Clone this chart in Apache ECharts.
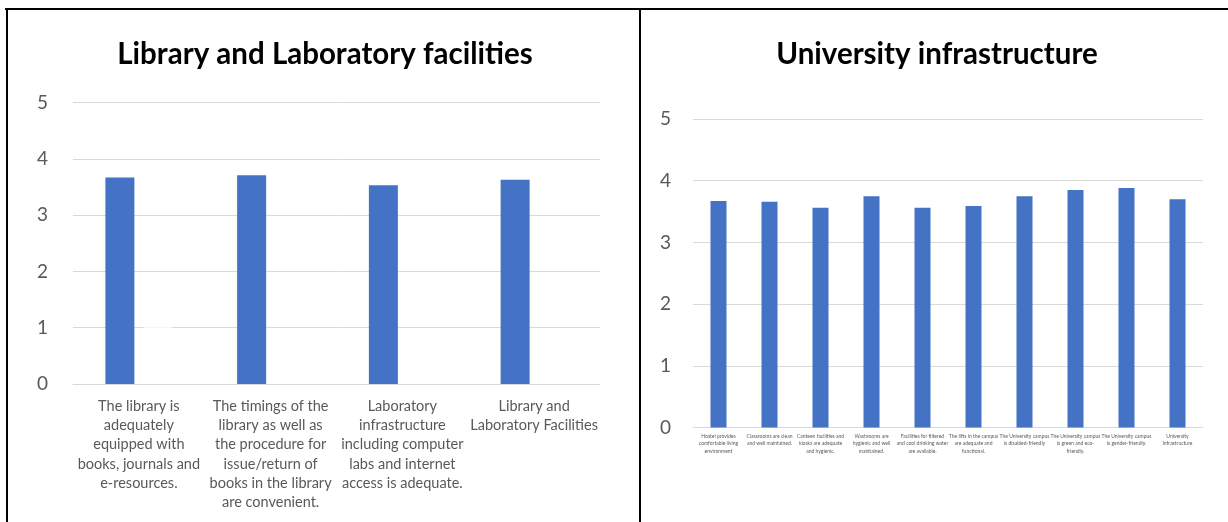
<!DOCTYPE html>
<html>
<head>
<meta charset="utf-8">
<script src="https://cdn.jsdelivr.net/npm/echarts@6/dist/echarts.min.js"></script>
<style>
html,body{margin:0;padding:0;background:#fff;}
#chart{width:1228px;height:522px;}
</style>
</head>
<body>
<div id="chart"></div>
<script>
// ---- Data ----
const libTitle = "Library and Laboratory facilities";
const libCategories = [
  "The library is\nadequately\nequipped with\nbooks, journals and\ne-resources.",
  "The timings of the\nlibrary as well as\nthe procedure for\nissue/return of\nbooks in the library\nare convenient.",
  "Laboratory\ninfrastructure\nincluding computer\nlabs and internet\naccess is adequate.",
  "Library and\nLaboratory Facilities"
];
const libValues = [3.67, 3.71, 3.53, 3.63];
const libSecondValues = [1.01, null, null, null];

const uniTitle = "University infrastructure";
const uniCategories = [
  "Hostel provides\ncomfortable living\nenvironment",
  "Classrooms are clean\nand well maintained.",
  "Canteen facilities and\nkiosks are adequate\nand hygienic.",
  "Washrooms are\nhygienic and well\nmaintained.",
  "Facilities for filtered\nand cool drinking water\nare available.",
  "The lifts in the campus\nare adequate and\nfunctional.",
  "The University campus\nis disabled-friendly",
  "The University campus\nis green and eco-\nfriendly.",
  "The University campus\nis gender-friendly.",
  "University\nInfrastructure"
];
const uniValues = [3.67, 3.66, 3.56, 3.75, 3.56, 3.59, 3.75, 3.85, 3.88, 3.70];

const yTicks = [0, 1, 2, 3, 4, 5];

// ---- Chart ----
const chart = echarts.init(document.getElementById('chart'), null, {renderer: 'canvas'});
const FONT = 'Lato, "Open Sans", sans-serif';
const grey = '#595959';
const gridCol = '#d9d9d9';
const blue = '#4472C4';

function yAxis(gridIndex, margin) {
  return {
    type: 'value', gridIndex: gridIndex,
    min: yTicks[0], max: yTicks[yTicks.length - 1], interval: 1,
    axisLine: {show: false}, axisTick: {show: false},
    axisLabel: {color: grey, fontSize: 19, fontFamily: FONT, margin: margin},
    splitLine: {lineStyle: {color: gridCol, width: 1}}
  };
}

chart.setOption({
  animation: false,
  backgroundColor: '#fff',
  title: [
    {text: libTitle, left: 320, top: 34, textAlign: 'center',
     textStyle: {fontFamily: FONT, fontWeight: 'bold', fontSize: 29.5, color: '#000'}},
    {text: uniTitle, left: 932, top: 34, textAlign: 'center',
     textStyle: {fontFamily: FONT, fontWeight: 'bold', fontSize: 29.5, color: '#000'}}
  ],
  grid: [
    {left: 73, right: 628, top: 102.5, bottom: 138},
    {left: 693, right: 25, top: 119, bottom: 94.5}
  ],
  xAxis: [
    {type: 'category', gridIndex: 0, data: libCategories,
     axisLine: {lineStyle: {color: gridCol, width: 1}}, axisTick: {show: false},
     axisLabel: {color: grey, fontSize: 14.5, lineHeight: 19.3, fontFamily: FONT, margin: 12.5, interval: 0}},
    {type: 'category', gridIndex: 1, data: uniCategories,
     axisLine: {lineStyle: {color: gridCol, width: 1}}, axisTick: {show: false},
     axisLabel: {color: grey, fontSize: 5, lineHeight: 7.5, fontFamily: FONT, margin: 5, interval: 0}}
  ],
  yAxis: [yAxis(0, 25), yAxis(1, 22)],
  series: [
    {type: 'bar', xAxisIndex: 0, yAxisIndex: 0, data: libValues,
     barWidth: 29, barGap: '31%', itemStyle: {color: blue}},
    {type: 'bar', xAxisIndex: 0, yAxisIndex: 0, data: libSecondValues,
     barWidth: 29, itemStyle: {color: '#ffffff'}},
    {type: 'bar', xAxisIndex: 1, yAxisIndex: 1, data: uniValues,
     barWidth: 16, itemStyle: {color: blue}}
  ],
  graphic: [
    {type: 'line', shape: {x1: 5, y1: 9, x2: 1228, y2: 9}, style: {stroke: '#000', lineWidth: 2}},
    {type: 'line', shape: {x1: 7, y1: 9, x2: 7, y2: 522}, style: {stroke: '#000', lineWidth: 2}},
    {type: 'line', shape: {x1: 640, y1: 9, x2: 640, y2: 522}, style: {stroke: '#000', lineWidth: 2}}
  ]
});
</script>
</body>
</html>
